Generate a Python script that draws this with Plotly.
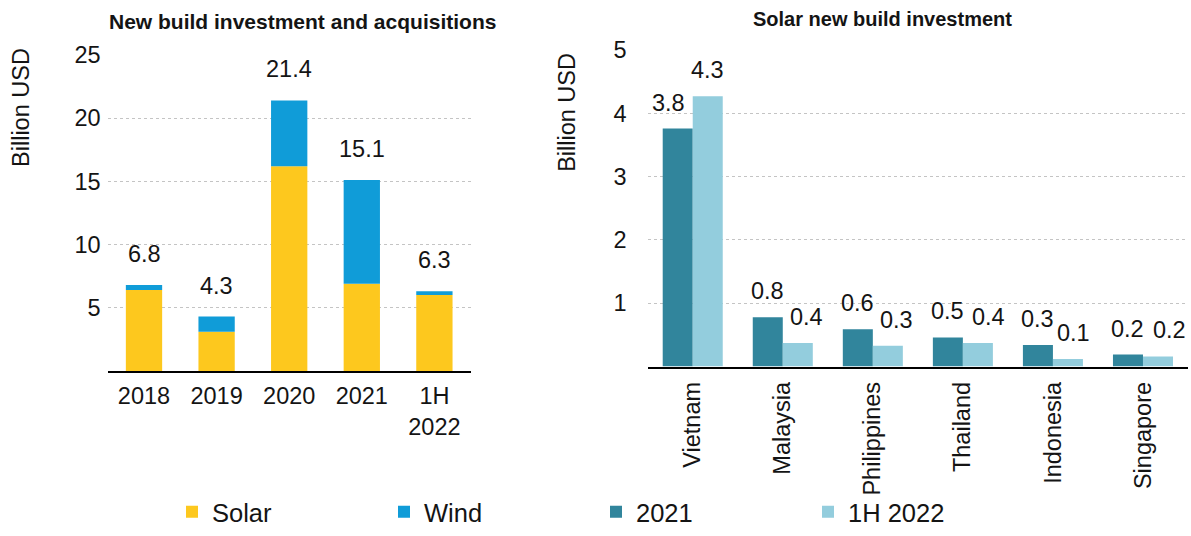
import plotly.graph_objects as go

# ---------------- data ----------------
years = ["2018", "2019", "2020", "2021", "1H<br>2022"]
solar = [6.4, 3.1, 16.2, 6.9, 6.0]
wind = [0.4, 1.2, 5.2, 8.2, 0.3]

countries = ["Vietnam", "Malaysia", "Philippines", "Thailand", "Indonesia", "Singapore"]
inv_2021 = [3.76, 0.78, 0.59, 0.46, 0.34, 0.19]
inv_1h2022 = [4.27, 0.37, 0.33, 0.37, 0.12, 0.16]

left_ticks = [5, 10, 15, 20, 25]
right_ticks = [1, 2, 3, 4, 5]

# ---------------- style ----------------
W, H = 1191, 536
FONT = "Arial, Liberation Sans, sans-serif"
TXT = "#141414"
C_SOLAR = "#FDC81E"
C_WIND = "#109CD8"
C_2021 = "#31859C"
C_1H = "#93CDDD"
GRID = "#C4C4C4"
FS = 23.5

def px_x(p):
    return p / W

def px_y(p):
    return 1 - p / H

fig = go.Figure()

# left: stacked bars
fig.add_trace(go.Bar(x=years, y=solar, name="Solar", marker_color=C_SOLAR,
                     width=0.5, offset=-0.25, xaxis="x", yaxis="y",
                     marker_line_width=0))
fig.add_trace(go.Bar(x=years, y=wind, base=solar, name="Wind", marker_color=C_WIND,
                     width=0.5, offset=-0.25, xaxis="x", yaxis="y",
                     marker_line_width=0))

# right: grouped bars
fig.add_trace(go.Bar(x=countries, y=inv_2021, name="2021", marker_color=C_2021,
                     width=1/3, offset=-1/3, xaxis="x2", yaxis="y2",
                     marker_line_width=0))
fig.add_trace(go.Bar(x=countries, y=inv_1h2022, name="1H 2022", marker_color=C_1H,
                     width=1/3, offset=0, xaxis="x2", yaxis="y2",
                     marker_line_width=0))

annotations = []
# totals on left chart (x given as category index)
for i, (s, w) in enumerate(zip(solar, wind)):
    tot = round(s + w, 1)
    annotations.append(dict(x=i, y=tot, xref="x", yref="y", text=f"{tot:.1f}",
                            showarrow=False, yanchor="bottom", yshift=16,
                            font=dict(size=FS, color=TXT, family=FONT)))

# value labels on right chart
shift_2021 = [-9, 0, 0, 0, 0, 0]
shift_1h = [0, 9, 9, 11, 6, 12]
for i in range(len(countries)):
    annotations.append(dict(x=i, y=inv_2021[i], xref="x2", yref="y2",
                            text=f"{inv_2021[i]:.1f}", showarrow=False,
                            xshift=-15 + shift_2021[i], yanchor="bottom", yshift=11,
                            font=dict(size=FS, color=TXT, family=FONT)))
    annotations.append(dict(x=i, y=inv_1h2022[i], xref="x2", yref="y2",
                            text=f"{inv_1h2022[i]:.1f}", showarrow=False,
                            xshift=15 + shift_1h[i], yanchor="bottom", yshift=11,
                            font=dict(size=FS, color=TXT, family=FONT)))

# titles
annotations.append(dict(x=px_x(302), y=px_y(22), xref="paper", yref="paper",
                        text="<b>New build investment and acquisitions</b>", showarrow=False,
                        xanchor="center", yanchor="middle",
                        font=dict(size=21, color=TXT, family=FONT)))
annotations.append(dict(x=px_x(882), y=px_y(19), xref="paper", yref="paper",
                        text="<b>Solar new build investment</b>", showarrow=False,
                        xanchor="center", yanchor="middle",
                        font=dict(size=20, color=TXT, family=FONT)))
# y-axis titles
annotations.append(dict(x=px_x(21), y=px_y(110), xref="paper", yref="paper",
                        text="Billion USD", showarrow=False, textangle=-90,
                        xanchor="center", yanchor="middle",
                        font=dict(size=FS, color=TXT, family=FONT)))
annotations.append(dict(x=px_x(567), y=px_y(115), xref="paper", yref="paper",
                        text="Billion USD", showarrow=False, textangle=-90,
                        xanchor="center", yanchor="middle",
                        font=dict(size=FS, color=TXT, family=FONT)))

axis_font = dict(size=FS, color=TXT, family=FONT)

fig.update_layout(
    width=W, height=H,
    margin=dict(l=0, r=0, t=0, b=0),
    paper_bgcolor="white", plot_bgcolor="white",
    barmode="overlay",
    font=dict(family=FONT, size=FS, color=TXT),
    showlegend=True,
    legend=dict(orientation="h", x=px_x(172), y=px_y(522), xanchor="left", yanchor="middle",
                entrywidth=167, entrywidthmode="pixels",
                font=dict(size=25.5, color=TXT, family=FONT), bgcolor="rgba(0,0,0,0)",
                traceorder="normal"),
    annotations=annotations,
    xaxis=dict(domain=[px_x(107.7), px_x(470.7)], anchor="y", type="category",
               range=[-0.5, len(years) - 0.5],
               showline=True, linecolor="black", linewidth=2, ticks="",
               tickfont=axis_font, showgrid=False, automargin=False,
               ticklabelstandoff=3),
    yaxis=dict(domain=[px_y(378), px_y(56)], anchor="x", range=[0, 25],
               tickvals=left_ticks, showgrid=True, gridcolor=GRID, griddash="dot",
               gridwidth=1, zeroline=False, showline=False, ticks="",
               tickfont=axis_font, automargin=False, ticklabelstandoff=6),
    xaxis2=dict(domain=[px_x(647.7), px_x(1188)], anchor="y2", type="category",
                range=[-0.5, len(countries) - 0.5],
                showline=True, linecolor="black", linewidth=2, ticks="",
                tickangle=-90, tickfont=axis_font, showgrid=False, automargin=False,
                ticklabelstandoff=4),
    yaxis2=dict(domain=[px_y(373.5), px_y(51)], anchor="x2", range=[0, 5],
                tickvals=right_ticks, showgrid=True, gridcolor=GRID, griddash="dot",
                gridwidth=1, zeroline=False, showline=False, ticks="",
                tickfont=axis_font, automargin=False, ticklabelstandoff=20),
)

fig.write_html("out.html", config={"displayModeBar": False},
               post_script="document.body.style.margin='0';document.body.style.overflow='hidden';")
